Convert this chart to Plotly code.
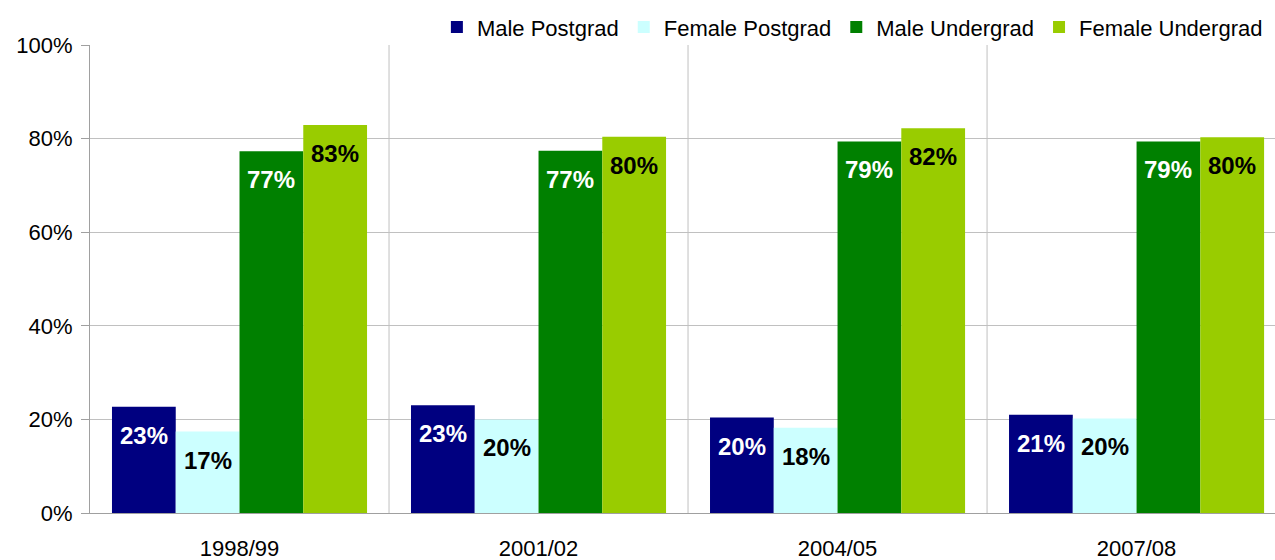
import plotly.graph_objects as go

years = ["1998/99", "2001/02", "2004/05", "2007/08"]
series_names = ["Male Postgrad", "Female Postgrad", "Male Undergrad", "Female Undergrad"]
male_postgrad = [22.7, 23.0, 20.4, 21.0]
female_postgrad = [17.4, 20.0, 18.2, 20.2]
male_undergrad = [77.3, 77.4, 79.4, 79.4]
female_undergrad = [82.9, 80.4, 82.2, 80.3]
labels_mp = ["23%", "23%", "20%", "21%"]
labels_fp = ["17%", "20%", "18%", "20%"]
labels_mu = ["77%", "77%", "79%", "79%"]
labels_fu = ["83%", "80%", "82%", "80%"]
y_ticks = [0, 20, 40, 60, 80, 100]
y_tick_text = ["0%", "20%", "40%", "60%", "80%", "100%"]

colors = ["#000080", "#CCFFFF", "#008000", "#99CC00"]
text_colors = ["white", "black", "white", "black"]
values = [male_postgrad, female_postgrad, male_undergrad, female_undergrad]
labels = [labels_mp, labels_fp, labels_mu, labels_fu]

FONT = "Arial, Liberation Sans, sans-serif"
BARGAP = 0.147
n_series = len(series_names)
bar_w = (1 - BARGAP) / n_series

fig = go.Figure()
annotations = []
for k, (name, vals, labs, col, tcol) in enumerate(zip(series_names, values, labels, colors, text_colors)):
    fig.add_trace(go.Bar(
        name=name, x=years, y=vals,
        marker=dict(color=col, line=dict(width=0)),
    ))
    for i, (v, lab) in enumerate(zip(vals, labs)):
        annotations.append(dict(
            xref="x", yref="y", x=i + (k - (n_series - 1) / 2) * bar_w, y=v,
            text=lab, showarrow=False, xanchor="center", yanchor="top", yshift=-13,
            font=dict(family=FONT, size=24, color=tcol, weight="bold"),
        ))

shapes = []
for i in range(len(years) - 1):
    shapes.append(dict(type="line", xref="x", yref="paper", x0=i + 0.5, x1=i + 0.5,
                       y0=0, y1=1, line=dict(color="#C0C0C0", width=1), layer="below"))

fig.update_layout(
    width=1275, height=560,
    margin=dict(l=90, r=0, t=45, b=47, autoexpand=False),
    plot_bgcolor="white", paper_bgcolor="white",
    barmode="group", bargap=BARGAP, bargroupgap=0,
    font=dict(family=FONT, size=22, color="black"),
    legend=dict(orientation="h", x=0.994, xanchor="right", y=1.038, yanchor="middle",
                font=dict(family=FONT, size=22, color="black"),
                itemwidth=30, traceorder="normal",
                bgcolor="rgba(0,0,0,0)"),
    shapes=shapes,
    annotations=annotations,
    showlegend=True,
)
fig.update_yaxes(range=[0, 100], tickmode="array", tickvals=y_ticks, ticktext=y_tick_text,
                 showgrid=True, gridcolor="#C0C0C0", gridwidth=1,
                 showline=True, linecolor="#A0A0A0", linewidth=1,
                 ticks="outside", ticklen=8, tickcolor="#A0A0A0",
                 ticklabelstandoff=4,
                 zeroline=False, tickfont=dict(size=22))
fig.update_xaxes(range=[-0.5, 3.463], showgrid=False, showline=True, linecolor="#A0A0A0", linewidth=1,
                 ticks="", tickfont=dict(size=22), ticklabelstandoff=16)

fig.write_html("out.html", post_script="document.body.style.margin='0';",
               config={"displayModeBar": False})
